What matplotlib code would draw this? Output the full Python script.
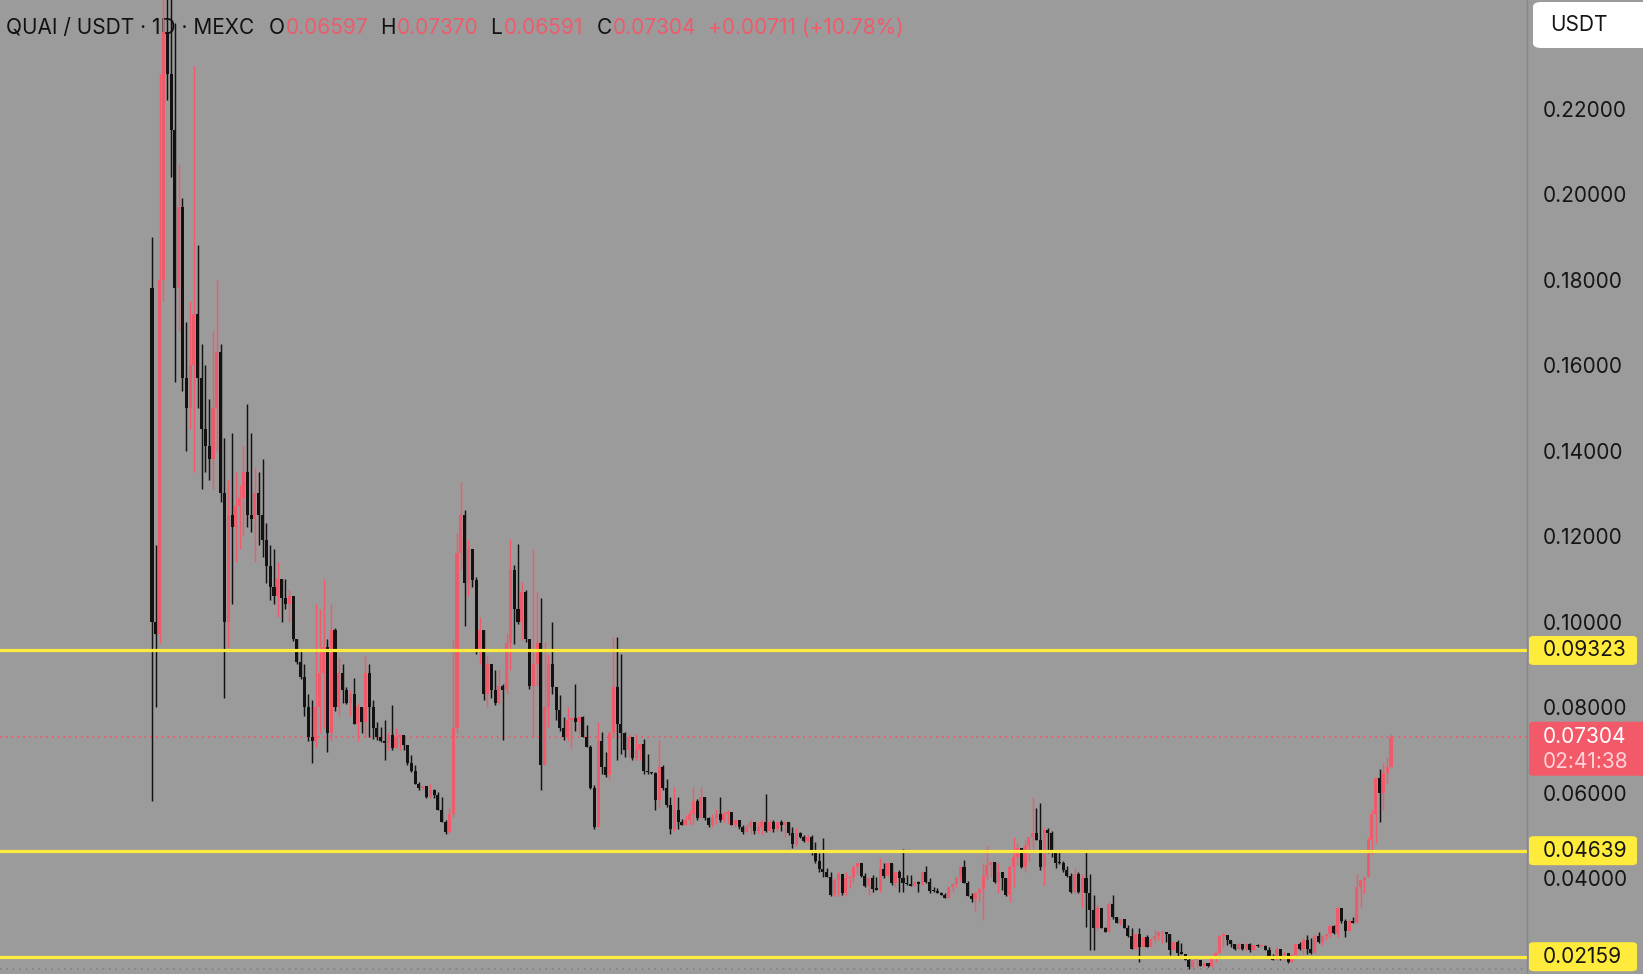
import numpy as np
import matplotlib
matplotlib.use('Agg')
import matplotlib.pyplot as plt
from matplotlib.patches import FancyBboxPatch

# QUAI/USDT daily candles, prices in thousandths of USDT (x1000)
open_first = 178
closes_k = [
    100, 97, 180, 238, 228, 215, 178, 197, 157, 150,
    160, 172, 157, 145, 141, 138, 150, 163, 130, 100,
    125, 122, 127, 129, 135, 125, 124, 130, 125, 119,
    113, 108, 106, 110, 105.5, 104, 106, 96, 90.5, 87,
    80, 73, 72, 80, 88, 94, 74, 98, 80, 88,
    84, 81, 83, 76, 80, 76.5, 88, 80, 75, 73,
    72, 71.5, 73.5, 70.5, 73, 73.5, 71, 67, 65, 62,
    61, 61.5, 59, 60.5, 59.5, 56, 53.1, 50.8, 55, 75,
    116, 125, 109, 117, 109.6, 93, 98, 83, 90, 84,
    81, 85, 84, 95, 112, 103, 100, 107, 96, 85,
    90, 95, 66.4, 80, 90, 84.7, 79.2, 75, 73, 77,
    77.5, 76.5, 77.7, 73, 70.6, 61, 52, 72, 66, 64,
    74, 84.7, 76, 74, 70, 73, 68, 70, 71.4, 65,
    64.8, 64.6, 58.2, 66, 61, 57, 51.5, 56, 53.1, 52.5,
    53.5, 55, 58, 54, 59, 54, 52.3, 54, 55, 53.5,
    55, 55.5, 52.5, 53.5, 52, 50.8, 52, 53, 51, 52,
    53.2, 51.1, 53, 51.5, 53, 52.5, 53, 50.5, 48, 50.5,
    49.5, 48.7, 49.5, 46, 44, 42, 41.5, 40.3, 36, 39.5,
    41, 36.5, 40, 40.3, 42.5, 43.4, 40.5, 38.2, 40, 37.5,
    37.3, 42, 40.5, 43.5, 38.8, 41.3, 40, 38.8, 38.5, 38.2,
    39, 38.7, 41.3, 39, 37, 36.9, 36.5, 36, 35.3, 37.8,
    38.7, 40.2, 42.5, 38.8, 35.7, 35, 36.5, 37.5, 40.5, 43,
    43.8, 39, 41.5, 40, 36, 42.5, 45, 47, 42.5, 47.5,
    49.5, 50.5, 49, 42.6, 51.3, 50.5, 46, 43.5, 43.4, 41.8,
    40.5, 36.8, 41, 36.8, 40, 36.4, 32.5, 28.2, 33, 28.3,
    27.4, 34, 30.9, 29.4, 30.5, 28.2, 26.5, 23.5, 27, 23.9,
    26.2, 23.9, 25.8, 26.5, 27.3, 27.4, 26.9, 23.1, 25, 22.5,
    22.3, 20.8, 19.2, 20.8, 20.9, 19.5, 20.2, 19.3, 21, 22.5,
    26.5, 26.6, 25.5, 24.5, 23.3, 24.5, 23.3, 24.6, 23.1, 24.3,
    24, 24.2, 23.2, 21.6, 20.8, 23.5, 21, 22.5, 20.4, 22,
    24.5, 23.5, 25.5, 23.5, 22.5, 26.5, 25, 26.5, 27, 28.8,
    27.2, 33, 30, 27.5, 30, 29.5, 38, 39.5, 40.3, 49,
    55, 63.5, 59.8, 64.5, 65.97, 73.04,
]
highs_k = [
    190, 118, 228, 262, 268, 258, 240, 207, 199, 170,
    175, 230, 188, 165, 160, 152, 168, 180, 165, 143,
    133, 144, 135, 132, 141, 151, 144, 136, 135, 138,
    123, 118, 117, 114, 108, 110, 107.5, 104.6, 96, 93,
    90, 83, 81.6, 104, 103, 110, 96, 104, 98.6, 91.7,
    90, 84.7, 84, 86.7, 81, 80, 92, 90, 81.6, 76.5,
    75.3, 76.9, 74.2, 80.4, 75, 73.8, 71.5, 70.3, 68.7, 66.4,
    62.4, 61.6, 60.9, 62, 60.8, 60.2, 59, 53.5, 56.6, 95.6,
    120.6, 132.7, 126, 119, 117, 110.5, 101, 97.2, 92, 87.8,
    88.6, 88.6, 85.5, 97.2, 119.4, 113.2, 118.2, 109.2, 107.3, 95.6,
    117, 106.9, 105.4, 95.2, 92.5, 99.9, 84.7, 82.7, 77.7, 80,
    77.7, 85.5, 78, 77.9, 75.7, 71, 61.7, 76.5, 74.1, 69.5,
    74.5, 96.4, 96.4, 92.5, 74.1, 73.8, 69.5, 73.8, 71.4, 72.6,
    69, 64.8, 64.8, 72.2, 66.4, 63.2, 59, 61.3, 59, 53.9,
    54.7, 56, 61.3, 58.5, 61.3, 55.8, 54.3, 55, 56.2, 59,
    55.4, 55.8, 55.4, 53.9, 53.1, 52.3, 52.7, 53.9, 52.7, 53,
    53.5, 59.7, 53.5, 53.5, 53.1, 53.5, 53.3, 53.2, 52, 51.6,
    50.8, 50, 50, 50, 48.5, 45.8, 49.3, 42.3, 41.5, 40,
    41.5, 39.6, 41.5, 40.5, 43, 43.5, 42.7, 41.1, 40.3, 40.7,
    40.3, 44.6, 43.5, 43.8, 41.5, 41.5, 41.9, 46.7, 40.7, 40.7,
    39.2, 39.2, 41.5, 42.7, 40, 38, 37.6, 36.8, 36.4, 38,
    38.8, 40.3, 42.7, 44.2, 39.2, 36.4, 36.8, 37.6, 43.5, 47.4,
    43.8, 42.3, 43.5, 41.5, 40, 42.7, 49.7, 48.1, 45.4, 48.9,
    49.7, 59, 56.3, 57.5, 51.6, 51.6, 50.9, 46.6, 46, 44,
    42.7, 41.1, 42.3, 41.5, 41, 46.1, 41, 36, 33.7, 30.5,
    28.6, 34.4, 36, 30.9, 30.5, 29.7, 29, 28.2, 27, 28.2,
    26.2, 26.6, 25.9, 27.8, 27.4, 27.4, 27, 25.9, 25.1, 25.5,
    24.7, 22.3, 21.2, 20.8, 21, 20.2, 20.2, 20, 21.2, 22.7,
    26.6, 26.8, 26.6, 25.5, 24.3, 24.7, 24.3, 24.7, 24.7, 24.3,
    24.5, 24.3, 24.3, 23.9, 22.3, 23.9, 22.7, 22.7, 22.3, 22.3,
    24.5, 25.1, 25.9, 26.6, 25.9, 27, 27.4, 26.6, 27, 29,
    29, 33.3, 32.9, 30.5, 30.5, 30.9, 41, 39.5, 40.3, 49.6,
    55.9, 63.7, 65.6, 66.8, 68.4, 73.7,
]
lows_k = [
    58, 80, 95, 175, 222, 204, 156, 168, 154, 140,
    145, 135, 150, 131, 135, 133, 131, 140, 128, 82,
    94, 104, 114, 117, 120, 122, 121, 114, 118, 115,
    109, 105, 104, 101, 100, 103, 100, 95.5, 90, 86.5,
    78, 72, 66.8, 70.6, 74, 75, 69.5, 72, 79, 78,
    81, 80.8, 78, 76, 72, 74, 73, 73, 72.6, 72.2,
    71.8, 67.6, 70, 70, 70.3, 70, 70, 66.4, 64.8, 62,
    60.5, 60.5, 58.6, 58.6, 58.6, 55.9, 53, 50.4, 50.4, 54.3,
    74, 112, 99, 106, 108, 92.5, 90, 81.6, 80, 82,
    80.4, 80.8, 72.2, 83, 88.6, 94.8, 99.5, 95.6, 95.2, 84.3,
    73, 85, 60.5, 66.4, 75.3, 83.1, 76.9, 74.5, 72.2, 72,
    70.3, 74.5, 73.8, 73, 70.6, 60.9, 51.5, 52.7, 64.4, 63.6,
    63, 73, 67.5, 69, 68.3, 68.3, 67.5, 67.5, 67.5, 64.4,
    64.4, 64.4, 55.8, 56.6, 60.5, 56.6, 50.4, 51, 51.5, 52.3,
    52.7, 52.5, 52.7, 53.5, 55, 53.5, 51.9, 52, 52.7, 53.1,
    53.1, 52.7, 52.3, 51.9, 51.5, 50.4, 50.8, 50.4, 50.4, 50.5,
    50.4, 50.7, 51.1, 50.8, 50.8, 51, 49.7, 50.1, 47, 47.5,
    49.3, 48.5, 48.5, 45.4, 43.5, 41.5, 40.3, 40.3, 35.7, 35.7,
    35.7, 36, 35.7, 37.6, 39, 41, 40.3, 38, 36, 36.8,
    37.2, 36.8, 40, 40.7, 38.4, 38, 36.8, 36.8, 38.4, 38.4,
    38.4, 36.8, 38.4, 38.8, 36.4, 36.8, 36.4, 36, 35.3, 36,
    36.8, 38, 39.2, 38.8, 35.7, 34.5, 32.2, 34.5, 30.2, 39.5,
    40.3, 38.8, 36.4, 37.2, 35.7, 34.5, 38, 43, 42.3, 41.5,
    44, 46, 48.9, 41.9, 38.4, 45.8, 45, 42.3, 43.2, 41.5,
    40.3, 36.6, 36.4, 36.4, 33.3, 28.6, 23.1, 23.1, 27.8, 28.2,
    27.4, 27.4, 30.5, 29.4, 29, 28.2, 26.2, 23.5, 23.5, 20.4,
    23.9, 23.9, 23.9, 25.1, 25.5, 24.7, 25.1, 22, 23.1, 21.6,
    22.3, 20.8, 18.8, 18.8, 19.2, 19.4, 19.2, 19.2, 19.2, 20.4,
    23.1, 23.9, 24.3, 23.9, 23.1, 23.5, 23.1, 23.1, 22.7, 23.1,
    23.9, 23.9, 23.1, 21.6, 20.8, 20.8, 20.8, 20.8, 20, 20.4,
    21.2, 23.1, 22.3, 22.3, 22.3, 23.1, 24.7, 24.3, 25.5, 26.2,
    27, 26.2, 29.4, 26.2, 28.2, 29.4, 29.4, 33.3, 36.4, 40.3,
    45.7, 48.1, 53.1, 55.9, 62.1, 65.91,
]

levels = [0.09323, 0.04639, 0.02159]
level_labels = ['0.09323', '0.04639', '0.02159']
price_ticks = [0.04, 0.06, 0.08, 0.10, 0.12, 0.14, 0.16, 0.18, 0.20, 0.22]
last_price = 0.07304
countdown = '02:41:38'
header_parts = [
    ('QUAI / USDT · 1D · MEXC', 'k'), ('O', 'k'), ('0.06597', 'r'),
    ('H', 'k'), ('0.07370', 'r'), ('L', 'k'), ('0.06591', 'r'),
    ('C', 'k'), ('0.07304', 'r'), ('+0.00711 (+10.78%)', 'r'),
]
header_x = [6, 269, 286, 380, 397, 490, 504, 597, 613, 708]

BG = '#9b9b9b'
RED = '#ef5b6b'
DARK = '#121212'
YELLOW = '#ffeb3b'
FONT = 'Inter'
FS = 15

closes = np.array(closes_k) / 1000
highs = np.array(highs_k) / 1000
lows = np.array(lows_k) / 1000
opens = np.concatenate([[open_first / 1000], closes[:-1]])
highs = np.maximum(highs, np.maximum(opens, closes))
lows = np.minimum(lows, np.minimum(opens, closes))
n = len(closes)
x = np.arange(n)
up = closes >= opens
colors = np.where(up, RED, DARK)

W, H = 1643, 974
fig = plt.figure(figsize=(W / 100, H / 100), dpi=100, facecolor=BG)
ax = fig.add_axes([0, 0, 1527 / W, 1])
ax.set_facecolor(BG)

# candle spacing: first candle at px 152, last at px 1391
step = (1391 - 152) / (n - 1)
ax.set_xlim(-152 / step, (1527 - 152) / step)
ax.set_ylim(0.01754, 0.2454)

ax.vlines(x, lows, highs, colors=colors, lw=1.05, zorder=3)
body = np.maximum(np.abs(closes - opens), 0.0003)
ax.bar(x, body, bottom=np.minimum(opens, closes), width=0.8, color=colors,
       linewidth=0, zorder=3)

for lv in levels:
    ax.axhline(lv, color=YELLOW, lw=2.3, zorder=4)
ax.axhline(last_price, color=RED, lw=1.3, ls=(0, (1, 2.2)), zorder=2.5)
ax.axhline(0.0187, color='#7c7c7c', lw=1.1, ls=(0, (1, 3.2)), zorder=2)

for s in ['top', 'left', 'bottom']:
    ax.spines[s].set_visible(False)
ax.spines['right'].set_color('#868686')
ax.spines['right'].set_linewidth(1.0)
ax.set_xticks([])
ax.yaxis.tick_right()
ax.set_yticks(price_ticks)
ax.set_yticklabels([f'{t:.5f}' for t in price_ticks])
ax.tick_params(axis='y', length=0, pad=11.5, labelsize=FS, labelcolor='#151515')
for lab in ax.get_yticklabels():
    lab.set_fontfamily(FONT)


def ypix(p):
    return ax.transData.transform((0, p))[1]


# yellow level labels on the price scale
for lv, txt in zip(levels, level_labels):
    yc = ypix(lv)
    fig.add_artist(FancyBboxPatch((1529 / W, (yc - 14.5) / H), 108 / W, 29 / H,
                                  boxstyle='round,pad=0,rounding_size=0.003',
                                  transform=fig.transFigure, fc=YELLOW, ec='none'))
    fig.text(1543 / W, yc / H, txt, fontsize=FS, family=FONT, color='#151515',
             va='center', ha='left')

# last price box with countdown
yc = ypix(last_price)
fig.add_artist(FancyBboxPatch((1529 / W, (yc - 39) / H), 130 / W, 54 / H,
                              boxstyle='round,pad=0,rounding_size=0.003',
                              transform=fig.transFigure, fc='#f25a69', ec='none'))
fig.text(1543 / W, yc / H, f'{last_price:.5f}', fontsize=FS, family=FONT,
         color='white', va='center', ha='left')
fig.text(1543 / W, (yc - 25) / H, countdown, fontsize=FS, family=FONT,
         color='#ffd3d8', va='center', ha='left')

# currency box top right
fig.add_artist(FancyBboxPatch((1533 / W, (H - 48) / H), 130 / W, 46 / H,
                              boxstyle='round,pad=0,rounding_size=0.005',
                              transform=fig.transFigure, fc='white', ec='none'))
fig.text(1550 / W, (H - 25) / H, 'USDT', fontsize=15, family=FONT, color='#151515',
         va='center', ha='left')

# header legend
for (txt, c), px in zip(header_parts, header_x):
    ax.text(px / W, (H - 34) / H, txt, transform=fig.transFigure, fontsize=FS,
            family=FONT, color=RED if c == 'r' else DARK, va='baseline',
            ha='left', zorder=1)

fig.savefig('out.png', dpi=100, facecolor=BG)
